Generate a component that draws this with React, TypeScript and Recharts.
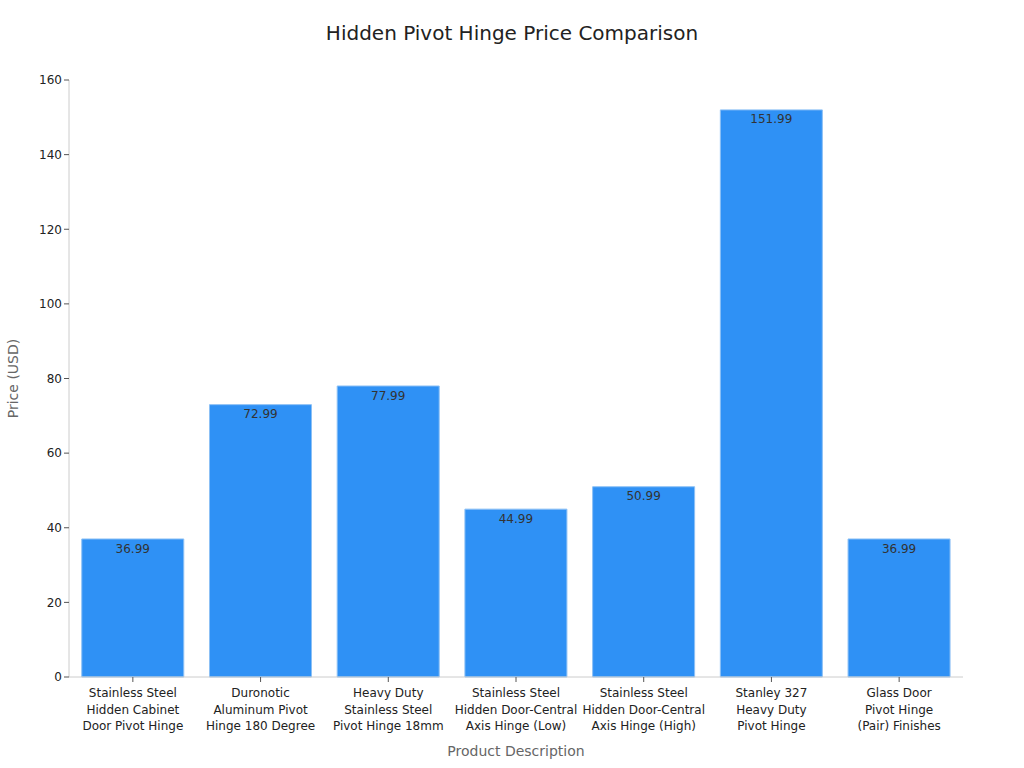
import { BarChart, Bar, XAxis, YAxis, LabelList, Label } from "recharts";

const PRODUCTS = [
  "Stainless Steel\nHidden Cabinet\nDoor Pivot Hinge",
  "Duronotic\nAluminum Pivot\nHinge 180 Degree",
  "Heavy Duty\nStainless Steel\nPivot Hinge 18mm",
  "Stainless Steel\nHidden Door-Central\nAxis Hinge (Low)",
  "Stainless Steel\nHidden Door-Central\nAxis Hinge (High)",
  "Stanley 327\nHeavy Duty\nPivot Hinge",
  "Glass Door\nPivot Hinge\n(Pair) Finishes",
];
const PRICES = [36.99, 72.99, 77.99, 44.99, 50.99, 151.99, 36.99];
const Y_TICKS = [0, 20, 40, 60, 80, 100, 120, 140, 160];

const FONT = "'DejaVu Sans', sans-serif";
const data = PRODUCTS.map((name, i) => ({ name, price: PRICES[i] }));

function MultiLineTick({ x, y, payload }: any) {
  const lines = String(payload.value).split("\n");
  return (
    <text x={x} y={y + 2} textAnchor="middle" fill="#222" fontSize={12} fontFamily={FONT}>
      {lines.map((l, i) => (
        <tspan key={i} x={x} dy={i === 0 ? 11 : 16.5}>
          {l}
        </tspan>
      ))}
    </text>
  );
}

export default function App() {
  return (
    <div style={{ position: "absolute", left: 0, top: 0, width: 1024, height: 768, background: "#fff" }}>
      <div
        style={{
          position: "absolute",
          top: 21,
          width: 1024,
          textAlign: "center",
          fontFamily: FONT,
          fontSize: 20,
          color: "#222",
        }}
      >
        Hidden Pivot Hinge Price Comparison
      </div>
      <BarChart
        width={1024}
        height={768}
        data={data}
        margin={{ top: 80, right: 61, bottom: 0, left: 0 }}
        barCategoryGap="10%"
      >
        <XAxis
          dataKey="name"
          height={91}
          interval={0}
          tick={<MultiLineTick />}
          tickLine={{ stroke: "#555" }}
          tickSize={5}
          axisLine={{ stroke: "#ccc" }}
        >
          <Label
            value="Product Description"
            position="insideBottom"
            offset={12}
            fill="#666"
            fontSize={14}
            fontFamily={FONT}
          />
        </XAxis>
        <YAxis
          width={69}
          domain={[0, 160]}
          ticks={Y_TICKS}
          tick={{ fill: "#222", fontSize: 12, fontFamily: FONT }}
          tickLine={{ stroke: "#555" }}
          tickSize={5}
          axisLine={{ stroke: "#ccc" }}
        >
          <Label
            value="Price (USD)"
            angle={-90}
            position="insideLeft"
            offset={13}
            fill="#666"
            fontSize={14}
            fontFamily={FONT}
            style={{ textAnchor: "middle" }}
          />
        </YAxis>
        <Bar dataKey="price" fill="#2f91f5" stroke="#8cc0f5" strokeWidth={1} isAnimationActive={false}>
          <LabelList
            dataKey="price"
            position="insideTop"
            offset={5}
            fill="#333"
            fontSize={12}
            fontFamily={FONT}
          />
        </Bar>
      </BarChart>
    </div>
  );
}
